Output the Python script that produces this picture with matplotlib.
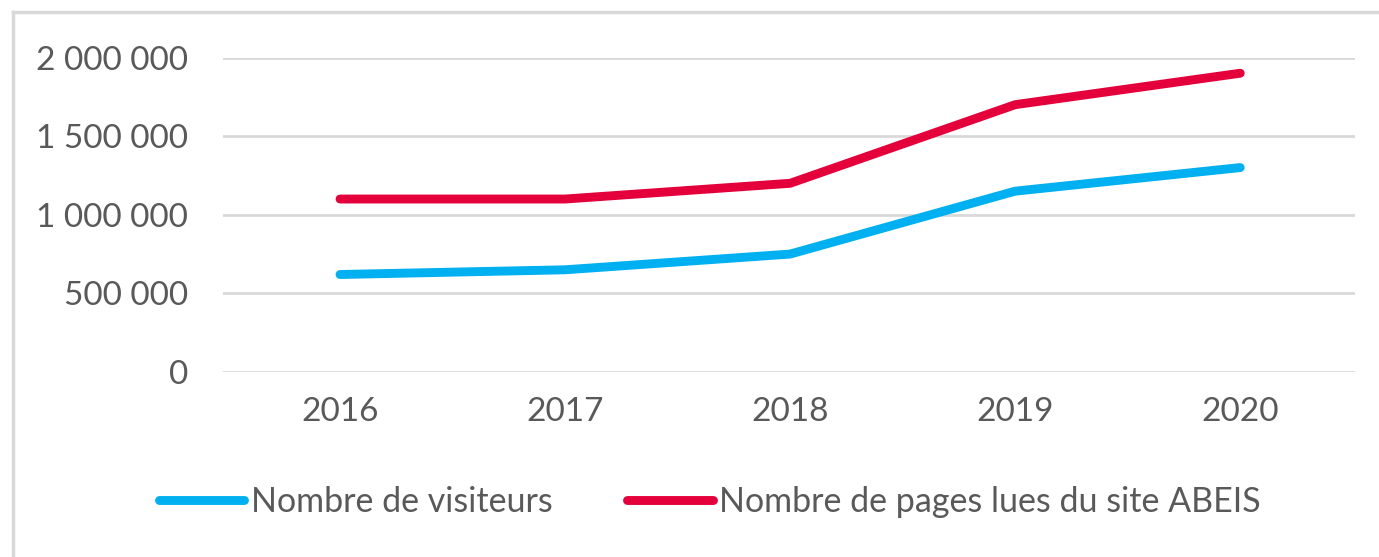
import matplotlib
matplotlib.use('Agg')
import matplotlib.pyplot as plt
from matplotlib.lines import Line2D
from matplotlib.ticker import FuncFormatter

years = ['2016', '2017', '2018', '2019', '2020']
visiteurs = [620000, 650000, 750000, 1150000, 1300000]
pages = [1100000, 1100000, 1200000, 1700000, 1900000]
labels = ['Nombre de visiteurs', 'Nombre de pages lues du site ABEIS']

blue = '#00B0F0'
red = '#E4003A'
txt = '#595959'
grid = '#D9D9D9'

plt.rcParams['font.family'] = ['Lato', 'DejaVu Sans']

fig = plt.figure(figsize=(13.79, 5.57), dpi=100)
ax = fig.add_axes([223/1379, (557-372)/557, (1355-223)/1379, (372-57.5)/557])

x = range(len(years))
ax.plot(x, visiteurs, color=blue, lw=6.4, solid_capstyle='round', solid_joinstyle='round', clip_on=False, label=labels[0])
ax.plot(x, pages, color=red, lw=6.4, solid_capstyle='round', solid_joinstyle='round', clip_on=False, label=labels[1])

ax.set_xlim(-0.52, 4.51)
ax.set_ylim(0, 2000000)
ax.set_yticks([0, 500000, 1000000, 1500000, 2000000])
ax.yaxis.set_major_formatter(FuncFormatter(lambda v, p: f'{int(v):,}'.replace(',', ' ')))
ax.set_xticks(list(x))
ax.set_xticklabels(years)
ax.grid(axis='y', color=grid, lw=2)
ax.set_axisbelow(True)
for s in ax.spines.values():
    s.set_visible(False)
ax.tick_params(length=0, labelsize=24, colors=txt)
ax.tick_params(axis='y', pad=25)
ax.tick_params(axis='x', pad=18)

fig.legend(loc='center', bbox_to_anchor=(710/1379, 1 - 502/557), ncol=2, frameon=False,
           fontsize=24.5, labelcolor=txt, handlelength=2.5, handletextpad=0.2, columnspacing=2.2)

# outer chart frame
fig.add_artist(Line2D([13/1379, 13/1379], [0, 1 - 12/557], color=grid, lw=2.5))
fig.add_artist(Line2D([13/1379, 1], [1 - 12/557, 1 - 12/557], color=grid, lw=2.5))

fig.savefig('out.png', dpi=100)
